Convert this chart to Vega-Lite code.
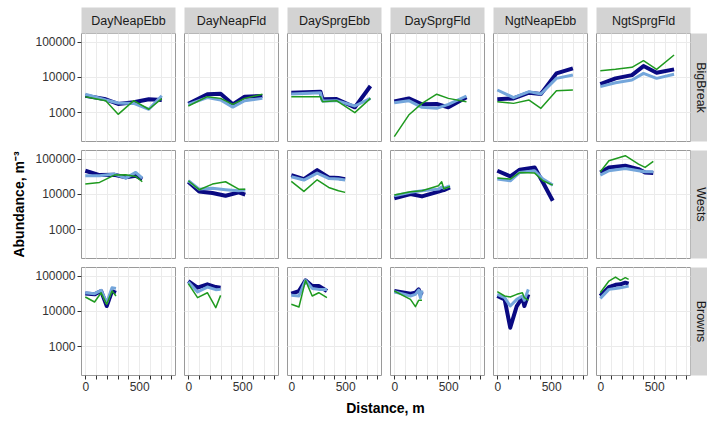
{
  "$schema": "https://vega.github.io/schema/vega-lite/v6.json",
  "padding": {"left": 12, "top": 13, "right": 0, "bottom": 4},
  "data": {"values": [
    {"site":"BigBreak","cond":"DayNeapEbb","series":"Series 1","dist":0,"abund":2900},
    {"site":"BigBreak","cond":"DayNeapEbb","series":"Series 1","dist":190,"abund":2300},
    {"site":"BigBreak","cond":"DayNeapEbb","series":"Series 1","dist":305,"abund":1700},
    {"site":"BigBreak","cond":"DayNeapEbb","series":"Series 1","dist":450,"abund":1900},
    {"site":"BigBreak","cond":"DayNeapEbb","series":"Series 1","dist":590,"abund":2300},
    {"site":"BigBreak","cond":"DayNeapEbb","series":"Series 1","dist":710,"abund":2200},
    {"site":"BigBreak","cond":"DayNeapEbb","series":"Series 2","dist":0,"abund":3200},
    {"site":"BigBreak","cond":"DayNeapEbb","series":"Series 2","dist":190,"abund":2200},
    {"site":"BigBreak","cond":"DayNeapEbb","series":"Series 2","dist":305,"abund":1800},
    {"site":"BigBreak","cond":"DayNeapEbb","series":"Series 2","dist":450,"abund":1750},
    {"site":"BigBreak","cond":"DayNeapEbb","series":"Series 2","dist":590,"abund":1200},
    {"site":"BigBreak","cond":"DayNeapEbb","series":"Series 2","dist":710,"abund":2900},
    {"site":"BigBreak","cond":"DayNeapEbb","series":"Series 3","dist":0,"abund":2700},
    {"site":"BigBreak","cond":"DayNeapEbb","series":"Series 3","dist":190,"abund":2100},
    {"site":"BigBreak","cond":"DayNeapEbb","series":"Series 3","dist":305,"abund":860},
    {"site":"BigBreak","cond":"DayNeapEbb","series":"Series 3","dist":450,"abund":2100},
    {"site":"BigBreak","cond":"DayNeapEbb","series":"Series 3","dist":590,"abund":1200},
    {"site":"BigBreak","cond":"DayNeapEbb","series":"Series 3","dist":710,"abund":2400},

    {"site":"BigBreak","cond":"DayNeapFld","series":"Series 1","dist":0,"abund":1720},
    {"site":"BigBreak","cond":"DayNeapFld","series":"Series 1","dist":177,"abund":3200},
    {"site":"BigBreak","cond":"DayNeapFld","series":"Series 1","dist":300,"abund":3330},
    {"site":"BigBreak","cond":"DayNeapFld","series":"Series 1","dist":413,"abund":1650},
    {"site":"BigBreak","cond":"DayNeapFld","series":"Series 1","dist":523,"abund":2730},
    {"site":"BigBreak","cond":"DayNeapFld","series":"Series 1","dist":688,"abund":2850},
    {"site":"BigBreak","cond":"DayNeapFld","series":"Series 2","dist":0,"abund":1650},
    {"site":"BigBreak","cond":"DayNeapFld","series":"Series 2","dist":177,"abund":2560},
    {"site":"BigBreak","cond":"DayNeapFld","series":"Series 2","dist":300,"abund":2190},
    {"site":"BigBreak","cond":"DayNeapFld","series":"Series 2","dist":413,"abund":1380},
    {"site":"BigBreak","cond":"DayNeapFld","series":"Series 2","dist":523,"abund":2100},
    {"site":"BigBreak","cond":"DayNeapFld","series":"Series 2","dist":688,"abund":2440},
    {"site":"BigBreak","cond":"DayNeapFld","series":"Series 3","dist":0,"abund":1480},
    {"site":"BigBreak","cond":"DayNeapFld","series":"Series 3","dist":177,"abund":2730},
    {"site":"BigBreak","cond":"DayNeapFld","series":"Series 3","dist":300,"abund":2440},
    {"site":"BigBreak","cond":"DayNeapFld","series":"Series 3","dist":413,"abund":1650},
    {"site":"BigBreak","cond":"DayNeapFld","series":"Series 3","dist":523,"abund":2440},
    {"site":"BigBreak","cond":"DayNeapFld","series":"Series 3","dist":688,"abund":3200},

    {"site":"BigBreak","cond":"DaySprgEbb","series":"Series 1","dist":0,"abund":3550},
    {"site":"BigBreak","cond":"DaySprgEbb","series":"Series 1","dist":270,"abund":3790},
    {"site":"BigBreak","cond":"DaySprgEbb","series":"Series 1","dist":290,"abund":2290},
    {"site":"BigBreak","cond":"DaySprgEbb","series":"Series 1","dist":420,"abund":2340},
    {"site":"BigBreak","cond":"DaySprgEbb","series":"Series 1","dist":590,"abund":1360},
    {"site":"BigBreak","cond":"DaySprgEbb","series":"Series 1","dist":735,"abund":5490},
    {"site":"BigBreak","cond":"DaySprgEbb","series":"Series 2","dist":0,"abund":3250},
    {"site":"BigBreak","cond":"DaySprgEbb","series":"Series 2","dist":270,"abund":3550},
    {"site":"BigBreak","cond":"DaySprgEbb","series":"Series 2","dist":290,"abund":2050},
    {"site":"BigBreak","cond":"DaySprgEbb","series":"Series 2","dist":420,"abund":2100},
    {"site":"BigBreak","cond":"DaySprgEbb","series":"Series 2","dist":590,"abund":1480},
    {"site":"BigBreak","cond":"DaySprgEbb","series":"Series 2","dist":735,"abund":2440},
    {"site":"BigBreak","cond":"DaySprgEbb","series":"Series 3","dist":0,"abund":2730},
    {"site":"BigBreak","cond":"DaySprgEbb","series":"Series 3","dist":270,"abund":2730},
    {"site":"BigBreak","cond":"DaySprgEbb","series":"Series 3","dist":290,"abund":1960},
    {"site":"BigBreak","cond":"DaySprgEbb","series":"Series 3","dist":420,"abund":2100},
    {"site":"BigBreak","cond":"DaySprgEbb","series":"Series 3","dist":590,"abund":960},
    {"site":"BigBreak","cond":"DaySprgEbb","series":"Series 3","dist":735,"abund":2440},

    {"site":"BigBreak","cond":"DaySprgFld","series":"Series 1","dist":0,"abund":1980},
    {"site":"BigBreak","cond":"DaySprgFld","series":"Series 1","dist":134,"abund":2440},
    {"site":"BigBreak","cond":"DaySprgFld","series":"Series 1","dist":257,"abund":1650},
    {"site":"BigBreak","cond":"DaySprgFld","series":"Series 1","dist":394,"abund":1690},
    {"site":"BigBreak","cond":"DaySprgFld","series":"Series 1","dist":502,"abund":1360},
    {"site":"BigBreak","cond":"DaySprgFld","series":"Series 1","dist":670,"abund":2620},
    {"site":"BigBreak","cond":"DaySprgFld","series":"Series 2","dist":0,"abund":1840},
    {"site":"BigBreak","cond":"DaySprgFld","series":"Series 2","dist":134,"abund":2100},
    {"site":"BigBreak","cond":"DaySprgFld","series":"Series 2","dist":257,"abund":1360},
    {"site":"BigBreak","cond":"DaySprgFld","series":"Series 2","dist":394,"abund":1270},
    {"site":"BigBreak","cond":"DaySprgFld","series":"Series 2","dist":502,"abund":1650},
    {"site":"BigBreak","cond":"DaySprgFld","series":"Series 2","dist":670,"abund":2850},
    {"site":"BigBreak","cond":"DaySprgFld","series":"Series 3","dist":0,"abund":200},
    {"site":"BigBreak","cond":"DaySprgFld","series":"Series 3","dist":134,"abund":820},
    {"site":"BigBreak","cond":"DaySprgFld","series":"Series 3","dist":257,"abund":1760},
    {"site":"BigBreak","cond":"DaySprgFld","series":"Series 3","dist":394,"abund":3200},
    {"site":"BigBreak","cond":"DaySprgFld","series":"Series 3","dist":502,"abund":2440},
    {"site":"BigBreak","cond":"DaySprgFld","series":"Series 3","dist":670,"abund":1960},

    {"site":"BigBreak","cond":"NgtNeapEbb","series":"Series 1","dist":0,"abund":2290},
    {"site":"BigBreak","cond":"NgtNeapEbb","series":"Series 1","dist":151,"abund":2440},
    {"site":"BigBreak","cond":"NgtNeapEbb","series":"Series 1","dist":295,"abund":3550},
    {"site":"BigBreak","cond":"NgtNeapEbb","series":"Series 1","dist":405,"abund":3250},
    {"site":"BigBreak","cond":"NgtNeapEbb","series":"Series 1","dist":549,"abund":12500},
    {"site":"BigBreak","cond":"NgtNeapEbb","series":"Series 1","dist":702,"abund":17400},
    {"site":"BigBreak","cond":"NgtNeapEbb","series":"Series 2","dist":0,"abund":4220},
    {"site":"BigBreak","cond":"NgtNeapEbb","series":"Series 2","dist":151,"abund":2560},
    {"site":"BigBreak","cond":"NgtNeapEbb","series":"Series 2","dist":295,"abund":3790},
    {"site":"BigBreak","cond":"NgtNeapEbb","series":"Series 2","dist":405,"abund":3250},
    {"site":"BigBreak","cond":"NgtNeapEbb","series":"Series 2","dist":549,"abund":9040},
    {"site":"BigBreak","cond":"NgtNeapEbb","series":"Series 2","dist":702,"abund":11200},
    {"site":"BigBreak","cond":"NgtNeapEbb","series":"Series 3","dist":0,"abund":1960},
    {"site":"BigBreak","cond":"NgtNeapEbb","series":"Series 3","dist":151,"abund":1760},
    {"site":"BigBreak","cond":"NgtNeapEbb","series":"Series 3","dist":295,"abund":2190},
    {"site":"BigBreak","cond":"NgtNeapEbb","series":"Series 3","dist":405,"abund":1270},
    {"site":"BigBreak","cond":"NgtNeapEbb","series":"Series 3","dist":549,"abund":4040},
    {"site":"BigBreak","cond":"NgtNeapEbb","series":"Series 3","dist":702,"abund":4220},

    {"site":"BigBreak","cond":"NgtSprgFld","series":"Series 1","dist":0,"abund":6250},
    {"site":"BigBreak","cond":"NgtSprgFld","series":"Series 1","dist":141,"abund":9040},
    {"site":"BigBreak","cond":"NgtSprgFld","series":"Series 1","dist":294,"abund":11200},
    {"site":"BigBreak","cond":"NgtSprgFld","series":"Series 1","dist":401,"abund":20200},
    {"site":"BigBreak","cond":"NgtSprgFld","series":"Series 1","dist":523,"abund":13100},
    {"site":"BigBreak","cond":"NgtSprgFld","series":"Series 1","dist":685,"abund":16300},
    {"site":"BigBreak","cond":"NgtSprgFld","series":"Series 2","dist":0,"abund":5250},
    {"site":"BigBreak","cond":"NgtSprgFld","series":"Series 2","dist":141,"abund":6800},
    {"site":"BigBreak","cond":"NgtSprgFld","series":"Series 2","dist":294,"abund":8110},
    {"site":"BigBreak","cond":"NgtSprgFld","series":"Series 2","dist":401,"abund":12500},
    {"site":"BigBreak","cond":"NgtSprgFld","series":"Series 2","dist":523,"abund":9040},
    {"site":"BigBreak","cond":"NgtSprgFld","series":"Series 2","dist":685,"abund":11800},
    {"site":"BigBreak","cond":"NgtSprgFld","series":"Series 3","dist":0,"abund":14900},
    {"site":"BigBreak","cond":"NgtSprgFld","series":"Series 3","dist":141,"abund":16300},
    {"site":"BigBreak","cond":"NgtSprgFld","series":"Series 3","dist":294,"abund":18600},
    {"site":"BigBreak","cond":"NgtSprgFld","series":"Series 3","dist":401,"abund":28700},
    {"site":"BigBreak","cond":"NgtSprgFld","series":"Series 3","dist":523,"abund":16300},
    {"site":"BigBreak","cond":"NgtSprgFld","series":"Series 3","dist":685,"abund":41600},

    {"site":"Wests","cond":"DayNeapEbb","series":"Series 1","dist":0,"abund":45300},
    {"site":"Wests","cond":"DayNeapEbb","series":"Series 1","dist":132,"abund":34100},
    {"site":"Wests","cond":"DayNeapEbb","series":"Series 1","dist":270,"abund":34900},
    {"site":"Wests","cond":"DayNeapEbb","series":"Series 1","dist":376,"abund":29300},
    {"site":"Wests","cond":"DayNeapEbb","series":"Series 1","dist":468,"abund":32700},
    {"site":"Wests","cond":"DayNeapEbb","series":"Series 1","dist":529,"abund":26200},
    {"site":"Wests","cond":"DayNeapEbb","series":"Series 2","dist":0,"abund":32700},
    {"site":"Wests","cond":"DayNeapEbb","series":"Series 2","dist":132,"abund":32700},
    {"site":"Wests","cond":"DayNeapEbb","series":"Series 2","dist":270,"abund":36400},
    {"site":"Wests","cond":"DayNeapEbb","series":"Series 2","dist":376,"abund":28000},
    {"site":"Wests","cond":"DayNeapEbb","series":"Series 2","dist":468,"abund":40600},
    {"site":"Wests","cond":"DayNeapEbb","series":"Series 2","dist":529,"abund":28000},
    {"site":"Wests","cond":"DayNeapEbb","series":"Series 3","dist":0,"abund":18900},
    {"site":"Wests","cond":"DayNeapEbb","series":"Series 3","dist":132,"abund":21100},
    {"site":"Wests","cond":"DayNeapEbb","series":"Series 3","dist":270,"abund":34100},
    {"site":"Wests","cond":"DayNeapEbb","series":"Series 3","dist":376,"abund":34900},
    {"site":"Wests","cond":"DayNeapEbb","series":"Series 3","dist":468,"abund":31300},
    {"site":"Wests","cond":"DayNeapEbb","series":"Series 3","dist":529,"abund":22000},

    {"site":"Wests","cond":"DayNeapFld","series":"Series 1","dist":0,"abund":22000},
    {"site":"Wests","cond":"DayNeapFld","series":"Series 1","dist":101,"abund":11700},
    {"site":"Wests","cond":"DayNeapFld","series":"Series 1","dist":224,"abund":10500},
    {"site":"Wests","cond":"DayNeapFld","series":"Series 1","dist":346,"abund":8830},
    {"site":"Wests","cond":"DayNeapFld","series":"Series 1","dist":468,"abund":11000},
    {"site":"Wests","cond":"DayNeapFld","series":"Series 1","dist":529,"abund":9430},
    {"site":"Wests","cond":"DayNeapFld","series":"Series 2","dist":0,"abund":23500},
    {"site":"Wests","cond":"DayNeapFld","series":"Series 2","dist":101,"abund":13600},
    {"site":"Wests","cond":"DayNeapFld","series":"Series 2","dist":224,"abund":14300},
    {"site":"Wests","cond":"DayNeapFld","series":"Series 2","dist":346,"abund":13100},
    {"site":"Wests","cond":"DayNeapFld","series":"Series 2","dist":468,"abund":12200},
    {"site":"Wests","cond":"DayNeapFld","series":"Series 2","dist":529,"abund":12800},
    {"site":"Wests","cond":"DayNeapFld","series":"Series 3","dist":0,"abund":23500},
    {"site":"Wests","cond":"DayNeapFld","series":"Series 3","dist":101,"abund":13100},
    {"site":"Wests","cond":"DayNeapFld","series":"Series 3","dist":224,"abund":18900},
    {"site":"Wests","cond":"DayNeapFld","series":"Series 3","dist":346,"abund":22000},
    {"site":"Wests","cond":"DayNeapFld","series":"Series 3","dist":468,"abund":13600},
    {"site":"Wests","cond":"DayNeapFld","series":"Series 3","dist":529,"abund":13600},

    {"site":"Wests","cond":"DaySprgEbb","series":"Series 1","dist":0,"abund":34100},
    {"site":"Wests","cond":"DaySprgEbb","series":"Series 1","dist":117,"abund":26200},
    {"site":"Wests","cond":"DaySprgEbb","series":"Series 1","dist":240,"abund":47300},
    {"site":"Wests","cond":"DaySprgEbb","series":"Series 1","dist":347,"abund":29300},
    {"site":"Wests","cond":"DaySprgEbb","series":"Series 1","dist":438,"abund":28000},
    {"site":"Wests","cond":"DaySprgEbb","series":"Series 1","dist":500,"abund":26200},
    {"site":"Wests","cond":"DaySprgEbb","series":"Series 2","dist":0,"abund":30600},
    {"site":"Wests","cond":"DaySprgEbb","series":"Series 2","dist":117,"abund":24600},
    {"site":"Wests","cond":"DaySprgEbb","series":"Series 2","dist":240,"abund":38800},
    {"site":"Wests","cond":"DaySprgEbb","series":"Series 2","dist":347,"abund":27400},
    {"site":"Wests","cond":"DaySprgEbb","series":"Series 2","dist":438,"abund":26200},
    {"site":"Wests","cond":"DaySprgEbb","series":"Series 2","dist":500,"abund":24600},
    {"site":"Wests","cond":"DaySprgEbb","series":"Series 3","dist":0,"abund":22500},
    {"site":"Wests","cond":"DaySprgEbb","series":"Series 3","dist":117,"abund":11700},
    {"site":"Wests","cond":"DaySprgEbb","series":"Series 3","dist":240,"abund":25100},
    {"site":"Wests","cond":"DaySprgEbb","series":"Series 3","dist":347,"abund":15200},
    {"site":"Wests","cond":"DaySprgEbb","series":"Series 3","dist":438,"abund":12200},
    {"site":"Wests","cond":"DaySprgEbb","series":"Series 3","dist":500,"abund":11000},

    {"site":"Wests","cond":"DaySprgFld","series":"Series 1","dist":0,"abund":7400},
    {"site":"Wests","cond":"DaySprgFld","series":"Series 1","dist":150,"abund":9840},
    {"site":"Wests","cond":"DaySprgFld","series":"Series 1","dist":257,"abund":8450},
    {"site":"Wests","cond":"DaySprgFld","series":"Series 1","dist":410,"abund":11500},
    {"site":"Wests","cond":"DaySprgFld","series":"Series 1","dist":440,"abund":12400},
    {"site":"Wests","cond":"DaySprgFld","series":"Series 1","dist":460,"abund":12800},
    {"site":"Wests","cond":"DaySprgFld","series":"Series 1","dist":517,"abund":15200},
    {"site":"Wests","cond":"DaySprgFld","series":"Series 2","dist":0,"abund":8830},
    {"site":"Wests","cond":"DaySprgFld","series":"Series 2","dist":150,"abund":11000},
    {"site":"Wests","cond":"DaySprgFld","series":"Series 2","dist":257,"abund":12200},
    {"site":"Wests","cond":"DaySprgFld","series":"Series 2","dist":410,"abund":13600},
    {"site":"Wests","cond":"DaySprgFld","series":"Series 2","dist":440,"abund":15500},
    {"site":"Wests","cond":"DaySprgFld","series":"Series 2","dist":460,"abund":14500},
    {"site":"Wests","cond":"DaySprgFld","series":"Series 2","dist":517,"abund":16900},
    {"site":"Wests","cond":"DaySprgFld","series":"Series 3","dist":0,"abund":9200},
    {"site":"Wests","cond":"DaySprgFld","series":"Series 3","dist":150,"abund":11500},
    {"site":"Wests","cond":"DaySprgFld","series":"Series 3","dist":257,"abund":12200},
    {"site":"Wests","cond":"DaySprgFld","series":"Series 3","dist":410,"abund":16900},
    {"site":"Wests","cond":"DaySprgFld","series":"Series 3","dist":440,"abund":22000},
    {"site":"Wests","cond":"DaySprgFld","series":"Series 3","dist":460,"abund":14000},
    {"site":"Wests","cond":"DaySprgFld","series":"Series 3","dist":517,"abund":16200},

    {"site":"Wests","cond":"NgtNeapEbb","series":"Series 1","dist":0,"abund":45300},
    {"site":"Wests","cond":"NgtNeapEbb","series":"Series 1","dist":121,"abund":31300},
    {"site":"Wests","cond":"NgtNeapEbb","series":"Series 1","dist":209,"abund":48300},
    {"site":"Wests","cond":"NgtNeapEbb","series":"Series 1","dist":347,"abund":56300},
    {"site":"Wests","cond":"NgtNeapEbb","series":"Series 1","dist":424,"abund":21100},
    {"site":"Wests","cond":"NgtNeapEbb","series":"Series 1","dist":515,"abund":6350},
    {"site":"Wests","cond":"NgtNeapEbb","series":"Series 2","dist":0,"abund":26200},
    {"site":"Wests","cond":"NgtNeapEbb","series":"Series 2","dist":121,"abund":23500},
    {"site":"Wests","cond":"NgtNeapEbb","series":"Series 2","dist":209,"abund":40600},
    {"site":"Wests","cond":"NgtNeapEbb","series":"Series 2","dist":347,"abund":45300},
    {"site":"Wests","cond":"NgtNeapEbb","series":"Series 2","dist":424,"abund":26200},
    {"site":"Wests","cond":"NgtNeapEbb","series":"Series 2","dist":515,"abund":17700},
    {"site":"Wests","cond":"NgtNeapEbb","series":"Series 3","dist":0,"abund":28000},
    {"site":"Wests","cond":"NgtNeapEbb","series":"Series 3","dist":121,"abund":26200},
    {"site":"Wests","cond":"NgtNeapEbb","series":"Series 3","dist":209,"abund":40600},
    {"site":"Wests","cond":"NgtNeapEbb","series":"Series 3","dist":347,"abund":38800},
    {"site":"Wests","cond":"NgtNeapEbb","series":"Series 3","dist":424,"abund":23500},
    {"site":"Wests","cond":"NgtNeapEbb","series":"Series 3","dist":515,"abund":17700},

    {"site":"Wests","cond":"NgtSprgFld","series":"Series 1","dist":0,"abund":40600},
    {"site":"Wests","cond":"NgtSprgFld","series":"Series 1","dist":80,"abund":56300},
    {"site":"Wests","cond":"NgtSprgFld","series":"Series 1","dist":232,"abund":62800},
    {"site":"Wests","cond":"NgtSprgFld","series":"Series 1","dist":355,"abund":50500},
    {"site":"Wests","cond":"NgtSprgFld","series":"Series 1","dist":416,"abund":40600},
    {"site":"Wests","cond":"NgtSprgFld","series":"Series 1","dist":492,"abund":38800},
    {"site":"Wests","cond":"NgtSprgFld","series":"Series 2","dist":0,"abund":34100},
    {"site":"Wests","cond":"NgtSprgFld","series":"Series 2","dist":80,"abund":45300},
    {"site":"Wests","cond":"NgtSprgFld","series":"Series 2","dist":232,"abund":52700},
    {"site":"Wests","cond":"NgtSprgFld","series":"Series 2","dist":355,"abund":45300},
    {"site":"Wests","cond":"NgtSprgFld","series":"Series 2","dist":416,"abund":42400},
    {"site":"Wests","cond":"NgtSprgFld","series":"Series 2","dist":492,"abund":42400},
    {"site":"Wests","cond":"NgtSprgFld","series":"Series 3","dist":0,"abund":42400},
    {"site":"Wests","cond":"NgtSprgFld","series":"Series 3","dist":80,"abund":87100},
    {"site":"Wests","cond":"NgtSprgFld","series":"Series 3","dist":232,"abund":121000},
    {"site":"Wests","cond":"NgtSprgFld","series":"Series 3","dist":355,"abund":70000},
    {"site":"Wests","cond":"NgtSprgFld","series":"Series 3","dist":416,"abund":56300},
    {"site":"Wests","cond":"NgtSprgFld","series":"Series 3","dist":492,"abund":83400},

    {"site":"Browns","cond":"DayNeapEbb","series":"Series 1","dist":0,"abund":31300},
    {"site":"Browns","cond":"DayNeapEbb","series":"Series 1","dist":86,"abund":29400},
    {"site":"Browns","cond":"DayNeapEbb","series":"Series 1","dist":147,"abund":36500},
    {"site":"Browns","cond":"DayNeapEbb","series":"Series 1","dist":199,"abund":13700},
    {"site":"Browns","cond":"DayNeapEbb","series":"Series 1","dist":248,"abund":36500},
    {"site":"Browns","cond":"DayNeapEbb","series":"Series 1","dist":285,"abund":32700},
    {"site":"Browns","cond":"DayNeapEbb","series":"Series 2","dist":0,"abund":32700},
    {"site":"Browns","cond":"DayNeapEbb","series":"Series 2","dist":86,"abund":30700},
    {"site":"Browns","cond":"DayNeapEbb","series":"Series 2","dist":147,"abund":38200},
    {"site":"Browns","cond":"DayNeapEbb","series":"Series 2","dist":199,"abund":17000},
    {"site":"Browns","cond":"DayNeapEbb","series":"Series 2","dist":248,"abund":45400},
    {"site":"Browns","cond":"DayNeapEbb","series":"Series 2","dist":285,"abund":43400},
    {"site":"Browns","cond":"DayNeapEbb","series":"Series 3","dist":0,"abund":24700},
    {"site":"Browns","cond":"DayNeapEbb","series":"Series 3","dist":86,"abund":17800},
    {"site":"Browns","cond":"DayNeapEbb","series":"Series 3","dist":147,"abund":32700},
    {"site":"Browns","cond":"DayNeapEbb","series":"Series 3","dist":199,"abund":15300},
    {"site":"Browns","cond":"DayNeapEbb","series":"Series 3","dist":248,"abund":36500},
    {"site":"Browns","cond":"DayNeapEbb","series":"Series 3","dist":285,"abund":26400},

    {"site":"Browns","cond":"DayNeapFld","series":"Series 1","dist":0,"abund":70300},
    {"site":"Browns","cond":"DayNeapFld","series":"Series 1","dist":86,"abund":45400},
    {"site":"Browns","cond":"DayNeapFld","series":"Series 1","dist":177,"abund":56500},
    {"site":"Browns","cond":"DayNeapFld","series":"Series 1","dist":255,"abund":47400},
    {"site":"Browns","cond":"DayNeapFld","series":"Series 1","dist":300,"abund":45400},
    {"site":"Browns","cond":"DayNeapFld","series":"Series 2","dist":0,"abund":65800},
    {"site":"Browns","cond":"DayNeapFld","series":"Series 2","dist":86,"abund":34200},
    {"site":"Browns","cond":"DayNeapFld","series":"Series 2","dist":177,"abund":47400},
    {"site":"Browns","cond":"DayNeapFld","series":"Series 2","dist":255,"abund":40000},
    {"site":"Browns","cond":"DayNeapFld","series":"Series 2","dist":300,"abund":40700},
    {"site":"Browns","cond":"DayNeapFld","series":"Series 3","dist":0,"abund":59000},
    {"site":"Browns","cond":"DayNeapFld","series":"Series 3","dist":86,"abund":23600},
    {"site":"Browns","cond":"DayNeapFld","series":"Series 3","dist":177,"abund":32700},
    {"site":"Browns","cond":"DayNeapFld","series":"Series 3","dist":255,"abund":12300},
    {"site":"Browns","cond":"DayNeapFld","series":"Series 3","dist":300,"abund":27500},

    {"site":"Browns","cond":"DaySprgEbb","series":"Series 1","dist":0,"abund":30700},
    {"site":"Browns","cond":"DaySprgEbb","series":"Series 1","dist":71,"abund":36500},
    {"site":"Browns","cond":"DaySprgEbb","series":"Series 1","dist":132,"abund":73500},
    {"site":"Browns","cond":"DaySprgEbb","series":"Series 1","dist":194,"abund":50700},
    {"site":"Browns","cond":"DaySprgEbb","series":"Series 1","dist":255,"abund":50700},
    {"site":"Browns","cond":"DaySprgEbb","series":"Series 1","dist":331,"abund":36500},
    {"site":"Browns","cond":"DaySprgEbb","series":"Series 2","dist":0,"abund":27500},
    {"site":"Browns","cond":"DaySprgEbb","series":"Series 2","dist":71,"abund":26400},
    {"site":"Browns","cond":"DaySprgEbb","series":"Series 2","dist":132,"abund":73500},
    {"site":"Browns","cond":"DaySprgEbb","series":"Series 2","dist":194,"abund":43400},
    {"site":"Browns","cond":"DaySprgEbb","series":"Series 2","dist":255,"abund":40700},
    {"site":"Browns","cond":"DaySprgEbb","series":"Series 2","dist":331,"abund":40700},
    {"site":"Browns","cond":"DaySprgEbb","series":"Series 3","dist":0,"abund":15300},
    {"site":"Browns","cond":"DaySprgEbb","series":"Series 3","dist":71,"abund":12800},
    {"site":"Browns","cond":"DaySprgEbb","series":"Series 3","dist":132,"abund":73500},
    {"site":"Browns","cond":"DaySprgEbb","series":"Series 3","dist":194,"abund":26400},
    {"site":"Browns","cond":"DaySprgEbb","series":"Series 3","dist":255,"abund":32700},
    {"site":"Browns","cond":"DaySprgEbb","series":"Series 3","dist":331,"abund":23600},

    {"site":"Browns","cond":"DaySprgFld","series":"Series 1","dist":0,"abund":36500},
    {"site":"Browns","cond":"DaySprgFld","series":"Series 1","dist":150,"abund":30700},
    {"site":"Browns","cond":"DaySprgFld","series":"Series 1","dist":196,"abund":32700},
    {"site":"Browns","cond":"DaySprgFld","series":"Series 1","dist":226,"abund":40700},
    {"site":"Browns","cond":"DaySprgFld","series":"Series 1","dist":242,"abund":29400},
    {"site":"Browns","cond":"DaySprgFld","series":"Series 1","dist":257,"abund":35000},
    {"site":"Browns","cond":"DaySprgFld","series":"Series 2","dist":0,"abund":35000},
    {"site":"Browns","cond":"DaySprgFld","series":"Series 2","dist":150,"abund":26400},
    {"site":"Browns","cond":"DaySprgFld","series":"Series 2","dist":196,"abund":29400},
    {"site":"Browns","cond":"DaySprgFld","series":"Series 2","dist":226,"abund":38900},
    {"site":"Browns","cond":"DaySprgFld","series":"Series 2","dist":242,"abund":23600},
    {"site":"Browns","cond":"DaySprgFld","series":"Series 2","dist":257,"abund":38200},
    {"site":"Browns","cond":"DaySprgFld","series":"Series 3","dist":0,"abund":36500},
    {"site":"Browns","cond":"DaySprgFld","series":"Series 3","dist":150,"abund":21200},
    {"site":"Browns","cond":"DaySprgFld","series":"Series 3","dist":196,"abund":13100},
    {"site":"Browns","cond":"DaySprgFld","series":"Series 3","dist":226,"abund":19900},
    {"site":"Browns","cond":"DaySprgFld","series":"Series 3","dist":242,"abund":19900},
    {"site":"Browns","cond":"DaySprgFld","series":"Series 3","dist":257,"abund":19900},

    {"site":"Browns","cond":"NgtNeapEbb","series":"Series 1","dist":0,"abund":26400},
    {"site":"Browns","cond":"NgtNeapEbb","series":"Series 1","dist":68,"abund":21200},
    {"site":"Browns","cond":"NgtNeapEbb","series":"Series 1","dist":120,"abund":3320},
    {"site":"Browns","cond":"NgtNeapEbb","series":"Series 1","dist":181,"abund":13700},
    {"site":"Browns","cond":"NgtNeapEbb","series":"Series 1","dist":233,"abund":23600},
    {"site":"Browns","cond":"NgtNeapEbb","series":"Series 1","dist":251,"abund":13700},
    {"site":"Browns","cond":"NgtNeapEbb","series":"Series 1","dist":288,"abund":29400},
    {"site":"Browns","cond":"NgtNeapEbb","series":"Series 2","dist":0,"abund":29400},
    {"site":"Browns","cond":"NgtNeapEbb","series":"Series 2","dist":68,"abund":23600},
    {"site":"Browns","cond":"NgtNeapEbb","series":"Series 2","dist":120,"abund":13700},
    {"site":"Browns","cond":"NgtNeapEbb","series":"Series 2","dist":181,"abund":21200},
    {"site":"Browns","cond":"NgtNeapEbb","series":"Series 2","dist":233,"abund":26400},
    {"site":"Browns","cond":"NgtNeapEbb","series":"Series 2","dist":251,"abund":19900},
    {"site":"Browns","cond":"NgtNeapEbb","series":"Series 2","dist":288,"abund":40700},
    {"site":"Browns","cond":"NgtNeapEbb","series":"Series 3","dist":0,"abund":35000},
    {"site":"Browns","cond":"NgtNeapEbb","series":"Series 3","dist":68,"abund":26400},
    {"site":"Browns","cond":"NgtNeapEbb","series":"Series 3","dist":120,"abund":24700},
    {"site":"Browns","cond":"NgtNeapEbb","series":"Series 3","dist":181,"abund":29400},
    {"site":"Browns","cond":"NgtNeapEbb","series":"Series 3","dist":233,"abund":32700},
    {"site":"Browns","cond":"NgtNeapEbb","series":"Series 3","dist":251,"abund":23600},
    {"site":"Browns","cond":"NgtNeapEbb","series":"Series 3","dist":288,"abund":19900},

    {"site":"Browns","cond":"NgtSprgFld","series":"Series 1","dist":0,"abund":26400},
    {"site":"Browns","cond":"NgtSprgFld","series":"Series 1","dist":80,"abund":47400},
    {"site":"Browns","cond":"NgtSprgFld","series":"Series 1","dist":141,"abund":55000},
    {"site":"Browns","cond":"NgtSprgFld","series":"Series 1","dist":187,"abund":56500},
    {"site":"Browns","cond":"NgtSprgFld","series":"Series 1","dist":232,"abund":63100},
    {"site":"Browns","cond":"NgtSprgFld","series":"Series 1","dist":263,"abund":59000},
    {"site":"Browns","cond":"NgtSprgFld","series":"Series 2","dist":0,"abund":22600},
    {"site":"Browns","cond":"NgtSprgFld","series":"Series 2","dist":80,"abund":40700},
    {"site":"Browns","cond":"NgtSprgFld","series":"Series 2","dist":141,"abund":43000},
    {"site":"Browns","cond":"NgtSprgFld","series":"Series 2","dist":187,"abund":45400},
    {"site":"Browns","cond":"NgtSprgFld","series":"Series 2","dist":232,"abund":48000},
    {"site":"Browns","cond":"NgtSprgFld","series":"Series 2","dist":263,"abund":50700},
    {"site":"Browns","cond":"NgtSprgFld","series":"Series 3","dist":0,"abund":32700},
    {"site":"Browns","cond":"NgtSprgFld","series":"Series 3","dist":80,"abund":70300},
    {"site":"Browns","cond":"NgtSprgFld","series":"Series 3","dist":141,"abund":91200},
    {"site":"Browns","cond":"NgtSprgFld","series":"Series 3","dist":187,"abund":73500},
    {"site":"Browns","cond":"NgtSprgFld","series":"Series 3","dist":232,"abund":87500},
    {"site":"Browns","cond":"NgtSprgFld","series":"Series 3","dist":263,"abund":78300}
  ]},
  "columns": 6,
  "spacing": {"row": 9, "column": 9},
  "bounds": "flush",
  "concat": [
    {"width": 94, "height": 108, "transform": [{"filter": "datum.site === 'BigBreak' && datum.cond === 'DayNeapEbb'"}],
     "mark": {"type": "line", "strokeJoin": "round", "clip": true},
     "encoding": {
       "x": {"field": "dist", "type": "quantitative", "scale": {"domain": [-40, 833], "nice": false, "zero": false},
             "axis": {"orient": "top", "values": [0,100,200,300,400,500,600,700,800], "grid": true, "labels": false, "ticks": false, "domain": true, "domainColor": "#d3d3d3", "domainWidth": 26, "offset": 13, "title": "DayNeapEbb", "titleY": 0, "titleBaseline": "middle"}},
       "y": {"field": "abund", "type": "quantitative", "scale": {"type": "log", "domain": [150, 176000], "nice": false},
             "axis": {"values": [1000, 10000, 100000], "format": "d", "grid": true, "ticks": true, "labels": true, "domain": false, "title": null}},
       "color": {"field": "series", "type": "nominal", "scale": {"domain": ["Series 1", "Series 2", "Series 3"], "range": ["#0a0a82", "#74a6db", "#1f9a1f"]}, "legend": null},
       "strokeWidth": {"condition": [{"test": "datum.series === 'Series 1'", "value": 4}, {"test": "datum.series === 'Series 2'", "value": 3}], "value": 1.5}
     }},
    {"width": 94, "height": 108, "transform": [{"filter": "datum.site === 'BigBreak' && datum.cond === 'DayNeapFld'"}],
     "mark": {"type": "line", "strokeJoin": "round", "clip": true},
     "encoding": {
       "x": {"field": "dist", "type": "quantitative", "scale": {"domain": [-40, 833], "nice": false, "zero": false},
             "axis": {"orient": "top", "values": [0,100,200,300,400,500,600,700,800], "grid": true, "labels": false, "ticks": false, "domain": true, "domainColor": "#d3d3d3", "domainWidth": 26, "offset": 13, "title": "DayNeapFld", "titleY": 0, "titleBaseline": "middle"}},
       "y": {"field": "abund", "type": "quantitative", "scale": {"type": "log", "domain": [150, 176000], "nice": false},
             "axis": {"values": [1000, 10000, 100000], "grid": true, "ticks": false, "labels": false, "domain": false, "title": null}},
       "color": {"field": "series", "type": "nominal", "scale": {"domain": ["Series 1", "Series 2", "Series 3"], "range": ["#0a0a82", "#74a6db", "#1f9a1f"]}, "legend": null},
       "strokeWidth": {"condition": [{"test": "datum.series === 'Series 1'", "value": 4}, {"test": "datum.series === 'Series 2'", "value": 3}], "value": 1.5}
     }},
    {"width": 94, "height": 108, "transform": [{"filter": "datum.site === 'BigBreak' && datum.cond === 'DaySprgEbb'"}],
     "mark": {"type": "line", "strokeJoin": "round", "clip": true},
     "encoding": {
       "x": {"field": "dist", "type": "quantitative", "scale": {"domain": [-40, 833], "nice": false, "zero": false},
             "axis": {"orient": "top", "values": [0,100,200,300,400,500,600,700,800], "grid": true, "labels": false, "ticks": false, "domain": true, "domainColor": "#d3d3d3", "domainWidth": 26, "offset": 13, "title": "DaySprgEbb", "titleY": 0, "titleBaseline": "middle"}},
       "y": {"field": "abund", "type": "quantitative", "scale": {"type": "log", "domain": [150, 176000], "nice": false},
             "axis": {"values": [1000, 10000, 100000], "grid": true, "ticks": false, "labels": false, "domain": false, "title": null}},
       "color": {"field": "series", "type": "nominal", "scale": {"domain": ["Series 1", "Series 2", "Series 3"], "range": ["#0a0a82", "#74a6db", "#1f9a1f"]}, "legend": null},
       "strokeWidth": {"condition": [{"test": "datum.series === 'Series 1'", "value": 4}, {"test": "datum.series === 'Series 2'", "value": 3}], "value": 1.5}
     }},
    {"width": 94, "height": 108, "transform": [{"filter": "datum.site === 'BigBreak' && datum.cond === 'DaySprgFld'"}],
     "mark": {"type": "line", "strokeJoin": "round", "clip": true},
     "encoding": {
       "x": {"field": "dist", "type": "quantitative", "scale": {"domain": [-40, 833], "nice": false, "zero": false},
             "axis": {"orient": "top", "values": [0,100,200,300,400,500,600,700,800], "grid": true, "labels": false, "ticks": false, "domain": true, "domainColor": "#d3d3d3", "domainWidth": 26, "offset": 13, "title": "DaySprgFld", "titleY": 0, "titleBaseline": "middle"}},
       "y": {"field": "abund", "type": "quantitative", "scale": {"type": "log", "domain": [150, 176000], "nice": false},
             "axis": {"values": [1000, 10000, 100000], "grid": true, "ticks": false, "labels": false, "domain": false, "title": null}},
       "color": {"field": "series", "type": "nominal", "scale": {"domain": ["Series 1", "Series 2", "Series 3"], "range": ["#0a0a82", "#74a6db", "#1f9a1f"]}, "legend": null},
       "strokeWidth": {"condition": [{"test": "datum.series === 'Series 1'", "value": 4}, {"test": "datum.series === 'Series 2'", "value": 3}], "value": 1.5}
     }},
    {"width": 94, "height": 108, "transform": [{"filter": "datum.site === 'BigBreak' && datum.cond === 'NgtNeapEbb'"}],
     "mark": {"type": "line", "strokeJoin": "round", "clip": true},
     "encoding": {
       "x": {"field": "dist", "type": "quantitative", "scale": {"domain": [-40, 833], "nice": false, "zero": false},
             "axis": {"orient": "top", "values": [0,100,200,300,400,500,600,700,800], "grid": true, "labels": false, "ticks": false, "domain": true, "domainColor": "#d3d3d3", "domainWidth": 26, "offset": 13, "title": "NgtNeapEbb", "titleY": 0, "titleBaseline": "middle"}},
       "y": {"field": "abund", "type": "quantitative", "scale": {"type": "log", "domain": [150, 176000], "nice": false},
             "axis": {"values": [1000, 10000, 100000], "grid": true, "ticks": false, "labels": false, "domain": false, "title": null}},
       "color": {"field": "series", "type": "nominal", "scale": {"domain": ["Series 1", "Series 2", "Series 3"], "range": ["#0a0a82", "#74a6db", "#1f9a1f"]}, "legend": null},
       "strokeWidth": {"condition": [{"test": "datum.series === 'Series 1'", "value": 4}, {"test": "datum.series === 'Series 2'", "value": 3}], "value": 1.5}
     }},
    {"width": 94, "height": 108, "transform": [{"filter": "datum.site === 'BigBreak' && datum.cond === 'NgtSprgFld'"}],
     "mark": {"type": "line", "strokeJoin": "round", "clip": true},
     "encoding": {
       "x": {"field": "dist", "type": "quantitative", "scale": {"domain": [-40, 833], "nice": false, "zero": false},
             "axis": {"orient": "top", "values": [0,100,200,300,400,500,600,700,800], "grid": true, "labels": false, "ticks": false, "domain": true, "domainColor": "#d3d3d3", "domainWidth": 26, "offset": 13, "title": "NgtSprgFld", "titleY": 0, "titleBaseline": "middle"}},
       "y": {"field": "abund", "type": "quantitative", "scale": {"type": "log", "domain": [150, 176000], "nice": false},
             "axis": {"orient": "right", "values": [1000, 10000, 100000], "grid": true, "ticks": false, "labels": false, "domain": true, "domainColor": "#d3d3d3", "domainWidth": 21, "offset": 10.5, "title": "BigBreak", "titleX": 0, "titleAngle": 90, "titleBaseline": "middle", "titleAlign": "center"}},
       "color": {"field": "series", "type": "nominal", "scale": {"domain": ["Series 1", "Series 2", "Series 3"], "range": ["#0a0a82", "#74a6db", "#1f9a1f"]}, "legend": null},
       "strokeWidth": {"condition": [{"test": "datum.series === 'Series 1'", "value": 4}, {"test": "datum.series === 'Series 2'", "value": 3}], "value": 1.5}
     }},

    {"width": 94, "height": 108, "transform": [{"filter": "datum.site === 'Wests' && datum.cond === 'DayNeapEbb'"}],
     "mark": {"type": "line", "strokeJoin": "round", "clip": true},
     "encoding": {
       "x": {"field": "dist", "type": "quantitative", "scale": {"domain": [-40, 833], "nice": false, "zero": false},
             "axis": {"values": [0,100,200,300,400,500,600,700,800], "grid": true, "labels": false, "ticks": false, "domain": false, "title": null}},
       "y": {"field": "abund", "type": "quantitative", "scale": {"type": "log", "domain": [150, 176000], "nice": false},
             "axis": {"values": [1000, 10000, 100000], "format": "d", "grid": true, "ticks": true, "labels": true, "domain": false, "title": "Abundance, m⁻³", "titleFontSize": 14, "titleFontWeight": "bold", "titleColor": "#000000", "titlePadding": 8}},
       "color": {"field": "series", "type": "nominal", "scale": {"domain": ["Series 1", "Series 2", "Series 3"], "range": ["#0a0a82", "#74a6db", "#1f9a1f"]}, "legend": null},
       "strokeWidth": {"condition": [{"test": "datum.series === 'Series 1'", "value": 4}, {"test": "datum.series === 'Series 2'", "value": 3}], "value": 1.5}
     }},
    {"width": 94, "height": 108, "transform": [{"filter": "datum.site === 'Wests' && datum.cond === 'DayNeapFld'"}],
     "mark": {"type": "line", "strokeJoin": "round", "clip": true},
     "encoding": {
       "x": {"field": "dist", "type": "quantitative", "scale": {"domain": [-40, 833], "nice": false, "zero": false},
             "axis": {"values": [0,100,200,300,400,500,600,700,800], "grid": true, "labels": false, "ticks": false, "domain": false, "title": null}},
       "y": {"field": "abund", "type": "quantitative", "scale": {"type": "log", "domain": [150, 176000], "nice": false},
             "axis": {"values": [1000, 10000, 100000], "grid": true, "ticks": false, "labels": false, "domain": false, "title": null}},
       "color": {"field": "series", "type": "nominal", "scale": {"domain": ["Series 1", "Series 2", "Series 3"], "range": ["#0a0a82", "#74a6db", "#1f9a1f"]}, "legend": null},
       "strokeWidth": {"condition": [{"test": "datum.series === 'Series 1'", "value": 4}, {"test": "datum.series === 'Series 2'", "value": 3}], "value": 1.5}
     }},
    {"width": 94, "height": 108, "transform": [{"filter": "datum.site === 'Wests' && datum.cond === 'DaySprgEbb'"}],
     "mark": {"type": "line", "strokeJoin": "round", "clip": true},
     "encoding": {
       "x": {"field": "dist", "type": "quantitative", "scale": {"domain": [-40, 833], "nice": false, "zero": false},
             "axis": {"values": [0,100,200,300,400,500,600,700,800], "grid": true, "labels": false, "ticks": false, "domain": false, "title": null}},
       "y": {"field": "abund", "type": "quantitative", "scale": {"type": "log", "domain": [150, 176000], "nice": false},
             "axis": {"values": [1000, 10000, 100000], "grid": true, "ticks": false, "labels": false, "domain": false, "title": null}},
       "color": {"field": "series", "type": "nominal", "scale": {"domain": ["Series 1", "Series 2", "Series 3"], "range": ["#0a0a82", "#74a6db", "#1f9a1f"]}, "legend": null},
       "strokeWidth": {"condition": [{"test": "datum.series === 'Series 1'", "value": 4}, {"test": "datum.series === 'Series 2'", "value": 3}], "value": 1.5}
     }},
    {"width": 94, "height": 108, "transform": [{"filter": "datum.site === 'Wests' && datum.cond === 'DaySprgFld'"}],
     "mark": {"type": "line", "strokeJoin": "round", "clip": true},
     "encoding": {
       "x": {"field": "dist", "type": "quantitative", "scale": {"domain": [-40, 833], "nice": false, "zero": false},
             "axis": {"values": [0,100,200,300,400,500,600,700,800], "grid": true, "labels": false, "ticks": false, "domain": false, "title": null}},
       "y": {"field": "abund", "type": "quantitative", "scale": {"type": "log", "domain": [150, 176000], "nice": false},
             "axis": {"values": [1000, 10000, 100000], "grid": true, "ticks": false, "labels": false, "domain": false, "title": null}},
       "color": {"field": "series", "type": "nominal", "scale": {"domain": ["Series 1", "Series 2", "Series 3"], "range": ["#0a0a82", "#74a6db", "#1f9a1f"]}, "legend": null},
       "strokeWidth": {"condition": [{"test": "datum.series === 'Series 1'", "value": 4}, {"test": "datum.series === 'Series 2'", "value": 3}], "value": 1.5}
     }},
    {"width": 94, "height": 108, "transform": [{"filter": "datum.site === 'Wests' && datum.cond === 'NgtNeapEbb'"}],
     "mark": {"type": "line", "strokeJoin": "round", "clip": true},
     "encoding": {
       "x": {"field": "dist", "type": "quantitative", "scale": {"domain": [-40, 833], "nice": false, "zero": false},
             "axis": {"values": [0,100,200,300,400,500,600,700,800], "grid": true, "labels": false, "ticks": false, "domain": false, "title": null}},
       "y": {"field": "abund", "type": "quantitative", "scale": {"type": "log", "domain": [150, 176000], "nice": false},
             "axis": {"values": [1000, 10000, 100000], "grid": true, "ticks": false, "labels": false, "domain": false, "title": null}},
       "color": {"field": "series", "type": "nominal", "scale": {"domain": ["Series 1", "Series 2", "Series 3"], "range": ["#0a0a82", "#74a6db", "#1f9a1f"]}, "legend": null},
       "strokeWidth": {"condition": [{"test": "datum.series === 'Series 1'", "value": 4}, {"test": "datum.series === 'Series 2'", "value": 3}], "value": 1.5}
     }},
    {"width": 94, "height": 108, "transform": [{"filter": "datum.site === 'Wests' && datum.cond === 'NgtSprgFld'"}],
     "mark": {"type": "line", "strokeJoin": "round", "clip": true},
     "encoding": {
       "x": {"field": "dist", "type": "quantitative", "scale": {"domain": [-40, 833], "nice": false, "zero": false},
             "axis": {"values": [0,100,200,300,400,500,600,700,800], "grid": true, "labels": false, "ticks": false, "domain": false, "title": null}},
       "y": {"field": "abund", "type": "quantitative", "scale": {"type": "log", "domain": [150, 176000], "nice": false},
             "axis": {"orient": "right", "values": [1000, 10000, 100000], "grid": true, "ticks": false, "labels": false, "domain": true, "domainColor": "#d3d3d3", "domainWidth": 21, "offset": 10.5, "title": "Wests", "titleX": 0, "titleAngle": 90, "titleBaseline": "middle", "titleAlign": "center"}},
       "color": {"field": "series", "type": "nominal", "scale": {"domain": ["Series 1", "Series 2", "Series 3"], "range": ["#0a0a82", "#74a6db", "#1f9a1f"]}, "legend": null},
       "strokeWidth": {"condition": [{"test": "datum.series === 'Series 1'", "value": 4}, {"test": "datum.series === 'Series 2'", "value": 3}], "value": 1.5}
     }},

    {"width": 94, "height": 108, "transform": [{"filter": "datum.site === 'Browns' && datum.cond === 'DayNeapEbb'"}],
     "mark": {"type": "line", "strokeJoin": "round", "clip": true},
     "encoding": {
       "x": {"field": "dist", "type": "quantitative", "scale": {"domain": [-40, 833], "nice": false, "zero": false},
             "axis": {"values": [0,100,200,300,400,500,600,700,800], "grid": true, "labels": true, "labelExpr": "datum.value % 500 === 0 ? datum.label : ''", "labelOverlap": false, "ticks": true, "domain": false, "title": null}},
       "y": {"field": "abund", "type": "quantitative", "scale": {"type": "log", "domain": [150, 176000], "nice": false},
             "axis": {"values": [1000, 10000, 100000], "format": "d", "grid": true, "ticks": true, "labels": true, "domain": false, "title": null}},
       "color": {"field": "series", "type": "nominal", "scale": {"domain": ["Series 1", "Series 2", "Series 3"], "range": ["#0a0a82", "#74a6db", "#1f9a1f"]}, "legend": null},
       "strokeWidth": {"condition": [{"test": "datum.series === 'Series 1'", "value": 4}, {"test": "datum.series === 'Series 2'", "value": 3}], "value": 1.5}
     }},
    {"width": 94, "height": 108, "transform": [{"filter": "datum.site === 'Browns' && datum.cond === 'DayNeapFld'"}],
     "mark": {"type": "line", "strokeJoin": "round", "clip": true},
     "encoding": {
       "x": {"field": "dist", "type": "quantitative", "scale": {"domain": [-40, 833], "nice": false, "zero": false},
             "axis": {"values": [0,100,200,300,400,500,600,700,800], "grid": true, "labels": true, "labelExpr": "datum.value % 500 === 0 ? datum.label : ''", "labelOverlap": false, "ticks": true, "domain": false, "title": null}},
       "y": {"field": "abund", "type": "quantitative", "scale": {"type": "log", "domain": [150, 176000], "nice": false},
             "axis": {"values": [1000, 10000, 100000], "grid": true, "ticks": false, "labels": false, "domain": false, "title": null}},
       "color": {"field": "series", "type": "nominal", "scale": {"domain": ["Series 1", "Series 2", "Series 3"], "range": ["#0a0a82", "#74a6db", "#1f9a1f"]}, "legend": null},
       "strokeWidth": {"condition": [{"test": "datum.series === 'Series 1'", "value": 4}, {"test": "datum.series === 'Series 2'", "value": 3}], "value": 1.5}
     }},
    {"width": 94, "height": 108, "transform": [{"filter": "datum.site === 'Browns' && datum.cond === 'DaySprgEbb'"}],
     "mark": {"type": "line", "strokeJoin": "round", "clip": true},
     "encoding": {
       "x": {"field": "dist", "type": "quantitative", "scale": {"domain": [-40, 833], "nice": false, "zero": false},
             "axis": {"values": [0,100,200,300,400,500,600,700,800], "grid": true, "labels": true, "labelExpr": "datum.value % 500 === 0 ? datum.label : ''", "labelOverlap": false, "ticks": true, "domain": false, "title": "Distance, m", "titleX": 98, "titleAnchor": "middle", "titleAlign": "center", "titleFontSize": 14, "titleFontWeight": "bold", "titleColor": "#000000", "titlePadding": 9}},
       "y": {"field": "abund", "type": "quantitative", "scale": {"type": "log", "domain": [150, 176000], "nice": false},
             "axis": {"values": [1000, 10000, 100000], "grid": true, "ticks": false, "labels": false, "domain": false, "title": null}},
       "color": {"field": "series", "type": "nominal", "scale": {"domain": ["Series 1", "Series 2", "Series 3"], "range": ["#0a0a82", "#74a6db", "#1f9a1f"]}, "legend": null},
       "strokeWidth": {"condition": [{"test": "datum.series === 'Series 1'", "value": 4}, {"test": "datum.series === 'Series 2'", "value": 3}], "value": 1.5}
     }},
    {"width": 94, "height": 108, "transform": [{"filter": "datum.site === 'Browns' && datum.cond === 'DaySprgFld'"}],
     "mark": {"type": "line", "strokeJoin": "round", "clip": true},
     "encoding": {
       "x": {"field": "dist", "type": "quantitative", "scale": {"domain": [-40, 833], "nice": false, "zero": false},
             "axis": {"values": [0,100,200,300,400,500,600,700,800], "grid": true, "labels": true, "labelExpr": "datum.value % 500 === 0 ? datum.label : ''", "labelOverlap": false, "ticks": true, "domain": false, "title": null}},
       "y": {"field": "abund", "type": "quantitative", "scale": {"type": "log", "domain": [150, 176000], "nice": false},
             "axis": {"values": [1000, 10000, 100000], "grid": true, "ticks": false, "labels": false, "domain": false, "title": null}},
       "color": {"field": "series", "type": "nominal", "scale": {"domain": ["Series 1", "Series 2", "Series 3"], "range": ["#0a0a82", "#74a6db", "#1f9a1f"]}, "legend": null},
       "strokeWidth": {"condition": [{"test": "datum.series === 'Series 1'", "value": 4}, {"test": "datum.series === 'Series 2'", "value": 3}], "value": 1.5}
     }},
    {"width": 94, "height": 108, "transform": [{"filter": "datum.site === 'Browns' && datum.cond === 'NgtNeapEbb'"}],
     "mark": {"type": "line", "strokeJoin": "round", "clip": true},
     "encoding": {
       "x": {"field": "dist", "type": "quantitative", "scale": {"domain": [-40, 833], "nice": false, "zero": false},
             "axis": {"values": [0,100,200,300,400,500,600,700,800], "grid": true, "labels": true, "labelExpr": "datum.value % 500 === 0 ? datum.label : ''", "labelOverlap": false, "ticks": true, "domain": false, "title": null}},
       "y": {"field": "abund", "type": "quantitative", "scale": {"type": "log", "domain": [150, 176000], "nice": false},
             "axis": {"values": [1000, 10000, 100000], "grid": true, "ticks": false, "labels": false, "domain": false, "title": null}},
       "color": {"field": "series", "type": "nominal", "scale": {"domain": ["Series 1", "Series 2", "Series 3"], "range": ["#0a0a82", "#74a6db", "#1f9a1f"]}, "legend": null},
       "strokeWidth": {"condition": [{"test": "datum.series === 'Series 1'", "value": 4}, {"test": "datum.series === 'Series 2'", "value": 3}], "value": 1.5}
     }},
    {"width": 94, "height": 108, "transform": [{"filter": "datum.site === 'Browns' && datum.cond === 'NgtSprgFld'"}],
     "mark": {"type": "line", "strokeJoin": "round", "clip": true},
     "encoding": {
       "x": {"field": "dist", "type": "quantitative", "scale": {"domain": [-40, 833], "nice": false, "zero": false},
             "axis": {"values": [0,100,200,300,400,500,600,700,800], "grid": true, "labels": true, "labelExpr": "datum.value % 500 === 0 ? datum.label : ''", "labelOverlap": false, "ticks": true, "domain": false, "title": null}},
       "y": {"field": "abund", "type": "quantitative", "scale": {"type": "log", "domain": [150, 176000], "nice": false},
             "axis": {"orient": "right", "values": [1000, 10000, 100000], "grid": true, "ticks": false, "labels": false, "domain": true, "domainColor": "#d3d3d3", "domainWidth": 21, "offset": 10.5, "title": "Browns", "titleX": 0, "titleAngle": 90, "titleBaseline": "middle", "titleAlign": "center"}},
       "color": {"field": "series", "type": "nominal", "scale": {"domain": ["Series 1", "Series 2", "Series 3"], "range": ["#0a0a82", "#74a6db", "#1f9a1f"]}, "legend": null},
       "strokeWidth": {"condition": [{"test": "datum.series === 'Series 1'", "value": 4}, {"test": "datum.series === 'Series 2'", "value": 3}], "value": 1.5}
     }}
  ],
  "config": {
    "font": "Liberation Sans",
    "view": {"stroke": "#9a9a9a", "strokeWidth": 1},
    "axis": {"gridColor": "#ebebeb", "gridWidth": 1, "labelFontSize": 12, "labelColor": "#333333", "labelPadding": 2, "tickColor": "#333333", "tickSize": 4, "titleFontSize": 12.5, "titleFontWeight": "normal", "titleColor": "#1a1a1a"}
  }
}
